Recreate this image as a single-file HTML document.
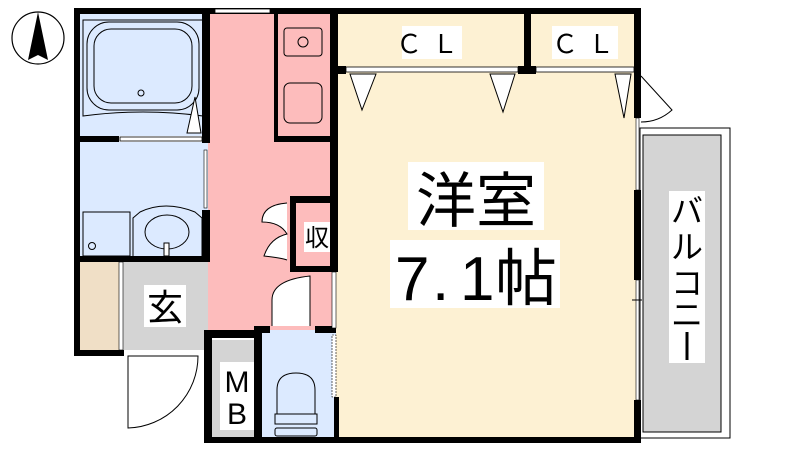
<!DOCTYPE html>
<html><head><meta charset="utf-8"><style>
html,body{margin:0;padding:0;background:#fff;width:800px;height:450px;overflow:hidden}
text{font-family:"Liberation Sans","Noto Sans CJK JP",sans-serif}
</style></head><body>
<svg width="800" height="450" viewBox="0 0 800 450" xmlns="http://www.w3.org/2000/svg">
<ellipse cx="38" cy="38" rx="26" ry="26" fill="#fff" stroke="#000" stroke-width="1.2"/>
<polygon points="38,12 48,60 38,55 28,60" fill="#000"/>
<rect x="80" y="14" width="128" height="122" fill="#dceaff"/>
<rect x="80" y="142" width="128" height="116" fill="#dceaff"/>
<rect x="80" y="262" width="40" height="88" fill="#f0dfc6"/>
<rect x="123" y="262" width="85" height="88" fill="#d4d4d4"/>
<rect x="208" y="14" width="128" height="322" fill="#fdbcbc"/>
<rect x="260" y="330" width="76" height="110" fill="#dceaff"/>
<rect x="210" y="340" width="50" height="100" fill="#d4d4d4"/>
<rect x="336" y="14" width="302" height="424" fill="#fdf1d3"/>
<rect x="640" y="128" width="90" height="310" fill="#fff" stroke="#000" stroke-width="1"/>
<rect x="643" y="135" width="78" height="297" fill="#d4d4d4" stroke="#000" stroke-width="1"/>
<path d="M83 20 H203 V116 Q143 108 83 116 Z" fill="#dceaff" stroke="#000" stroke-width="1"/>
<rect x="87" y="22" width="112" height="88" rx="22" fill="none" stroke="#000" stroke-width="1"/>
<rect x="94" y="29" width="98" height="74" rx="17" fill="none" stroke="#000" stroke-width="1"/>
<circle cx="141" cy="93" r="3" fill="none" stroke="#000"/>
<polygon points="195,97 187,133 201,133" fill="#fff" stroke="#000"/>
<rect x="83" y="212" width="47" height="44" fill="none" stroke="#000"/>
<circle cx="92" cy="246" r="3.5" fill="none" stroke="#000"/>
<path d="M133 256 V218 L140 212 Q165 200 195 212 L202 218 V256" fill="none" stroke="#000"/>
<ellipse cx="167" cy="232" rx="22" ry="17" fill="none" stroke="#000"/>
<rect x="164" y="243" width="5" height="13" fill="#fff" stroke="#000"/>
<rect x="284" y="28" width="38" height="28" rx="3" fill="none" stroke="#000"/>
<circle cx="303" cy="42" r="5" fill="none" stroke="#000"/>
<rect x="284" y="83" width="38" height="40" rx="6" fill="none" stroke="#000"/>
<path d="M277 420 V390 Q277 373 296 373 Q315 373 315 390 V420 Z" fill="none" stroke="#000"/>
<rect x="275" y="414" width="42" height="10" fill="#dceaff" stroke="#000"/>
<rect x="275" y="428" width="42" height="8" rx="2" fill="#dceaff" stroke="#000"/>
<g fill="#000">
<rect x="74" y="8" width="566" height="6"/>
<rect x="74" y="8" width="6" height="348"/>
<rect x="74" y="350" width="50" height="6"/>
<rect x="202" y="8" width="8" height="135"/>
<rect x="202" y="210" width="8" height="52"/>
<rect x="74" y="256" width="136" height="6"/>
<rect x="74" y="136" width="45" height="6"/>
<rect x="274" y="14" width="4" height="128"/>
<rect x="274" y="136" width="62" height="6"/>
<rect x="330" y="8" width="8" height="264"/>
<rect x="334" y="397" width="5" height="46"/>
<rect x="524" y="8" width="7" height="66"/>
<rect x="336" y="66" width="10" height="8"/>
<rect x="518" y="66" width="18" height="8"/>
<rect x="634" y="8" width="7" height="110"/>
<rect x="634" y="190" width="7" height="90"/>
<rect x="634" y="400" width="7" height="43"/>
<rect x="290" y="196" width="46" height="7"/>
<rect x="290" y="196" width="6" height="76"/>
<rect x="290" y="266" width="46" height="6"/>
<rect x="204" y="330" width="8" height="113"/>
<rect x="204" y="330" width="55" height="8"/>
<rect x="254" y="326" width="8" height="117"/>
<rect x="254" y="326" width="16" height="7"/>
<rect x="315" y="326" width="21" height="7"/>
<rect x="204" y="437" width="437" height="6"/>
</g>
<rect x="215" y="9" width="55" height="4" fill="#fff" stroke="#000" stroke-width="0.8"/>
<rect x="120" y="137" width="82" height="4" fill="#fff" stroke="#000" stroke-width="0.8"/>
<rect x="346" y="67" width="172" height="5" fill="#fff" stroke="#000" stroke-width="0.8"/>
<rect x="536" y="67" width="98" height="5" fill="#fff" stroke="#000" stroke-width="0.8"/>
<rect x="636" y="118" width="3" height="72" fill="#fff" stroke="#000" stroke-width="0.6"/>
<rect x="636" y="280" width="3" height="120" fill="#fff" stroke="#000" stroke-width="0.6"/>
<line x1="632" y1="300" x2="642" y2="300" stroke="#000"/>
<rect x="204" y="150" width="3" height="58" fill="#fff" stroke="#000" stroke-width="0.6"/>
<rect x="119" y="262" width="4" height="88" fill="#fff" stroke="#000" stroke-width="0.6"/>
<rect x="332" y="272" width="4" height="56" fill="#fff" stroke="#000" stroke-width="0.6"/>
<rect x="332" y="335" width="4" height="62" fill="#fff" stroke="#000" stroke-width="0.6" stroke-dasharray="2,1"/>
<polygon points="350,74 376,74 362,110" fill="#fff" stroke="#000"/>
<polygon points="490,74 515,74 503,112" fill="#fff" stroke="#000"/>
<polygon points="615,74 631,74 624,118" fill="#fff" stroke="#000"/>
<path d="M641 76 L672 110 A46 46 0 0 1 641 122" fill="#fff" stroke="#000"/>
<path d="M128 356 V428 A72 72 0 0 0 198 356 Z" fill="#fff" stroke="#000"/>
<path d="M272 326 V300 Q272 280 310 276 V326" fill="#fff" stroke="#000"/>
<path d="M287 203 Q262 205 262 222 Q280 222 287 234 Q270 238 264 256 Q282 258 287 260" fill="#fff" stroke="#000"/>
<rect x="402" y="26" width="60" height="33" fill="#fff"/>
<text x="432" y="53" font-size="26" text-anchor="middle" letter-spacing="10">ＣＬ</text>
<rect x="552" y="26" width="66" height="33" fill="#fff"/>
<text x="588" y="53" font-size="26" text-anchor="middle" letter-spacing="10">ＣＬ</text>
<rect x="408" y="162" width="136" height="68" fill="#fff"/>
<text x="476" y="222" font-size="60" text-anchor="middle">洋室</text>
<rect x="390" y="240" width="170" height="68" fill="#fff"/>
<text y="300" font-size="62"><tspan x="395">7</tspan><tspan x="432">.</tspan><tspan x="460">1</tspan><tspan x="495">帖</tspan></text>
<rect x="144" y="285" width="42" height="42" fill="#fff"/>
<text x="165" y="320" font-size="36" text-anchor="middle">玄</text>
<rect x="304" y="222" width="26" height="30" fill="#fff"/>
<text x="317" y="246" font-size="24" text-anchor="middle">収</text>
<rect x="220" y="362" width="34" height="68" fill="#fff"/>
<text x="237" y="392" font-size="30" text-anchor="middle">M</text>
<text x="237" y="424" font-size="30" text-anchor="middle">B</text>
<rect x="669" y="191" width="36" height="172" fill="#fff"/>
<text x="687" y="222" font-size="32" text-anchor="middle">バ</text>
<text x="687" y="258" font-size="32" text-anchor="middle">ル</text>
<text x="687" y="294" font-size="32" text-anchor="middle">コ</text>
<text x="687" y="326" font-size="32" text-anchor="middle">ニ</text>
<rect x="685.5" y="332" width="3" height="28" fill="#000"/>
</svg>
</body></html>
